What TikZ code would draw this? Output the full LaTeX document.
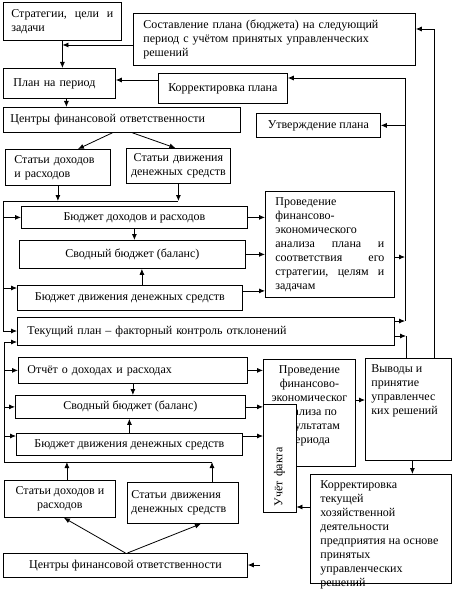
\documentclass[tikz,border=0pt]{standalone}
\usepackage{fontspec}
\setmainfont{Liberation Serif}
\usetikzlibrary{arrows.meta}
\begin{document}
\begin{tikzpicture}[x=1pt,y=-1pt,
  box/.style={draw, fill=white, line width=0.8pt, anchor=north west, inner sep=0pt,
    font=\fontsize{12}{14}\selectfont},
  arr/.style={line width=0.8pt, -{Latex[length=6pt,width=5pt]}},
  ln/.style={line width=0.8pt}]
\useasboundingbox (0,0) rectangle (452,591);
% upper part
\node[box, minimum width=118pt, minimum height=38pt, text width=102pt, align=left] (A) at (3,2)
  {Стратегии,\hfill цели\hfill и\\задачи};
\node[box, minimum width=282pt, minimum height=52pt, text width=262pt, align=left] (B) at (133,13)
  {Составление плана (бюджета) на следующий\\период с учётом принятых управленческих\\решений};
\node[box, minimum width=112pt, minimum height=30pt, text width=92pt, align=left] (C) at (3,68)
  {План на период};
\node[box, minimum width=129pt, minimum height=30pt, align=center] (D) at (158,73)
  {Корректировка плана};
\node[box, minimum width=237pt, minimum height=25pt, text width=223pt, align=left] (E) at (3,107)
  {Центры финансовой ответственности};
\node[box, minimum width=124pt, minimum height=24pt, align=center] (F) at (256,113)
  {Утверждение плана};
\node[box, minimum width=105pt, minimum height=36pt, text width=87pt, align=left] (G) at (5,149)
  {Статьи доходов\\и расходов};
\node[box, minimum width=104pt, minimum height=35pt, text width=100pt, align=center] (H) at (126,148)
  {Статьи движения\\денежных средств};
\node[box, minimum width=226pt, minimum height=22pt, align=center] (I) at (21,206)
  {Бюджет доходов и расходов};
\node[box, minimum width=226pt, minimum height=28pt, align=center] (J) at (19,240)
  {Сводный бюджет (баланс)};
\node[box, minimum width=225pt, minimum height=25pt, align=center] (K) at (17,285)
  {Бюджет движения денежных средств};
\node[box, minimum width=129pt, minimum height=106pt, text width=109pt, align=left] (L) at (265,191)
  {Проведение\\финансово-\\экономического\\анализа\hfill плана\hfill и\\соответствия\hfill его\\стратегии,\hfill целям\hfill и\\задачам};
\node[box, minimum width=377pt, minimum height=28pt, text width=357pt, align=left] (M) at (17,317)
  {Текущий план – факторный контроль отклонений};
% lower part
\node[box, minimum width=229pt, minimum height=26pt, text width=211pt, align=left] (N) at (18,357)
  {Отчёт о доходах и расходах};
\node[box, minimum width=230pt, minimum height=23pt, align=center] (O) at (15,395)
  {Сводный бюджет (баланс)};
\node[box, minimum width=226pt, minimum height=22pt, align=center] (P) at (16,433)
  {Бюджет движения денежных средств};
\node[box, minimum width=92pt, minimum height=107pt] (Q) at (263,359)
  {\parbox[c][95pt][t]{86pt}{\centering Проведение\\финансово-\\экономическог\\анализа по\\результатам\\периода}};
\node[box, anchor=center, rotate=90, minimum width=108pt, minimum height=33pt, inner xsep=6pt,
  text width=96pt, align=left] (R) at (279.5,458) {Учёт факта};
\node[box, minimum width=86pt, minimum height=102pt] (S) at (365,358)
  {\parbox[c][90pt][t]{74pt}{\raggedright Выводы и\\принятие\\управленчес\\ких решений}};
\node[box, minimum width=141pt, minimum height=109pt] (T) at (310,474)
  {\parbox[c][97pt][t]{121pt}{\raggedright Корректировка\\текущей\\хозяйственной\\деятельности\\предприятия на основе\\принятых\\управленческих\\решений}};
\node[box, minimum width=111pt, minimum height=37pt, align=center] (U) at (4,480)
  {Статьи доходов и\\расходов};
\node[box, minimum width=111pt, minimum height=41pt, text width=103pt, align=left] (V) at (127,482)
  {Статьи движения\\денежных средств};
\node[box, minimum width=244pt, minimum height=24pt, align=center] (W) at (3,553)
  {Центры финансовой ответственности};
% coordinates
\coordinate (b1) at (3,201);
\coordinate (b2) at (4,462);
\coordinate (b3) at (212,462);
\coordinate (r1) at (405,78);
\coordinate (r2) at (405,321);
\coordinate (r3) at (406,336);
\coordinate (r4) at (434,29);
\coordinate (w1) at (260,565);
% upper connectors
\draw[arr] (A.south) -- (A.south |- C.north);
\draw[arr] (B.west |- 0,45) -- (A.south |- 0,45);
\draw[arr] (D.west |- 0,80) -- (C.east |- 0,80);
\draw[arr] ([xshift=7pt]C.south) -- ([xshift=7pt]C.south |- E.north);
\draw[arr] ([xshift=-9.5pt]E.south) -- ([xshift=20pt]G.north);
\draw[arr] ([xshift=10.5pt]E.south) -- ([xshift=-3pt]H.north);
\draw[ln] (b1) -- (H.south |- b1);
\draw[arr] (G.south) -- (G.south |- b1);
\draw[arr] (H.south) -- (H.south |- b1);
\draw[arr] (b1) |- (M.west |- 0,331);
\draw[arr] (b1 |- I.west) -- (I.west);
\draw[arr] (b1 |- 0,288) -- (K.west |- 0,288);
\draw[arr] (I.south) -- (I.south |- J.north);
\draw[arr] ([xshift=12pt]K.north) -- ([xshift=12pt]K.north |- J.south);
\draw[arr] (I.east) -- (I.east -| L.west);
\draw[arr] (J.east) -- (J.east -| L.west);
\draw[arr] ([yshift=7pt]K.east) -- ([yshift=7pt]K.east -| L.west);
\draw[ln] (r1) -- (r2);
\draw[arr] (r1) -- (D.east |- r1);
\draw[arr] (r1 |- F.east) -- (F.east);
\draw[arr] (L.east |- 0,257) -- (r1 |- 0,257);
\draw[arr] (M.east |- r2) -- (r2);
\draw[arr] (M.east |- r3) -- (r3);
\draw[ln] (r3) -- (r3 |- S.north);
\draw[arr] (r4 |- S.north) -- (r4) -- (B.east |- r4);
% lower connectors
\draw[ln] (b2) -- (b3);
\draw[arr] (b3 |- V.north) -- (b3);
\draw[arr] ([xshift=7pt]U.north) -- ([xshift=7pt]U.north |- b2);
\draw[arr] (b2) |- (M.west |- 0,342);
\draw[arr] (b2 |- N.west) -- (N.west);
\draw[arr] (b2 |- O.west) -- (O.west);
\draw[arr] (b2 |- 0,436) -- (P.west |- 0,436);
\draw[arr] (N.south) -- (N.south |- O.north);
\draw[arr] (P.north) -- (P.north |- O.south);
\draw[arr] (N.east) -- (N.east -| Q.west);
\draw[arr] (O.east) -- (O.east -| Q.west);
\draw[arr] (P.east |- 0,436) -- (Q.west |- 0,436);
\draw[arr] (Q.east |- 0,400) -- (S.west |- 0,400);
\draw[arr] ([xshift=4pt]S.south) -- ([xshift=4pt]S.south |- T.north);
\draw[arr] (T.west |- 0,507) -- (R.south |- 0,507);
\draw[arr] (w1) -- (W.east |- w1);
\draw[arr] (W.north) -- ([xshift=4pt]U.south);
\draw[arr] ([xshift=2pt]W.north) -- ([xshift=18pt]V.south);
\end{tikzpicture}
\end{document}
